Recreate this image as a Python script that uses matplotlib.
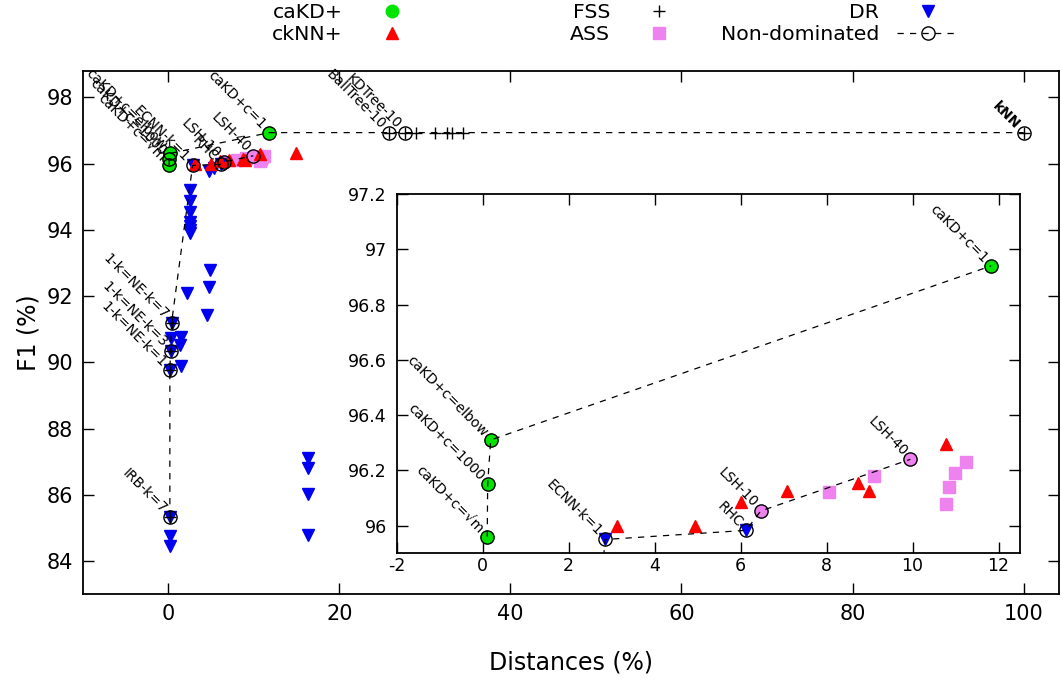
import numpy as np
import matplotlib.pyplot as plt
from matplotlib.lines import Line2D
from matplotlib.ticker import FuncFormatter

plt.rcParams['font.family'] = ['DejaVu Sans']
plt.rcParams['axes.unicode_minus'] = False

GREEN = '#00e400'
RED = '#ff0000'
BLUE = '#0000f0'
VIOLET = '#ee82ee'

# caKD+ (green circles)
cakd_x = [0.11, 0.12, 0.19, 11.83]
cakd_y = [95.96, 96.15, 96.31, 96.94]

# ckNN+ (red triangles)
cknn_x = [3.13, 4.95, 6.0, 7.09, 8.74, 8.98, 10.78, 14.9]
cknn_y = [96.0, 96.0, 96.085, 96.125, 96.155, 96.125, 96.295, 96.33]

# FSS (plus)
fss_x = [25.8, 27.65, 29.0, 31.2, 32.6, 33.2, 34.5, 100.0, 0.39, 0.27, 0.19, 0.19]
fss_y = [96.94, 96.94, 96.94, 96.94, 96.94, 96.94, 96.94, 96.94, 91.2, 90.35, 89.76, 85.34]

# ASS (violet squares), LSH variants drawn as circles
ass_x = [8.05, 9.1, 10.77, 10.84, 10.98, 11.25]
ass_y = [96.12, 96.18, 96.08, 96.14, 96.19, 96.23]
lsh_x = [6.47, 9.95]
lsh_y = [96.053, 96.24]

# DR (blue down triangles)
dr_x = [2.85, 6.13, 0.39, 0.27, 0.19, 0.19, 0.19, 0.15,
        0.27, 1.44, 1.36, 1.55, 2.22, 4.94, 4.75, 4.56,
        16.3, 16.3, 16.3, 16.3,
        2.6, 2.6, 2.6, 2.6, 2.6, 2.6, 2.6, 4.75, 5.33]
dr_y = [95.95, 95.983, 91.2, 90.35, 89.76, 85.34, 84.77, 84.45,
        90.75, 90.78, 90.53, 89.88, 92.11, 92.79, 92.29, 91.44,
        87.12, 86.81, 86.04, 84.8,
        95.2, 94.87, 94.55, 94.25, 94.12, 94.0, 93.9, 95.78, 95.86]

# Non-dominated solutions, two fronts
nd_labels = ['IRB-k=7', '1-k=NE-k=1', '1-k=NE-k=3', '1-k=NE-k=7', 'ECNN-k=1',
             'RHC', 'LSH-10', 'LSH-40',
             'caKD+c=\u221am', 'caKD+c=1000', 'caKD+c=elbow', 'caKD+c=1',
             'BallTree-10', 'KDTree-10', 'kNN']
nd_x = [0.19, 0.19, 0.27, 0.39, 2.85, 6.13, 6.47, 9.95,
        0.11, 0.12, 0.19, 11.83, 25.8, 27.65, 100.0]
nd_y = [85.34, 89.76, 90.35, 91.2, 95.95, 95.983, 96.053, 96.24,
        95.96, 96.15, 96.31, 96.94, 96.94, 96.94, 96.94]
nd_front = [1, 1, 1, 1, 1, 1, 1, 1, 2, 2, 2, 2, 2, 2, 2]

DASH = (0, (5, 5))


def draw(ax, line_xmax=None):
    ax.plot(ass_x, ass_y, 's', color=VIOLET, ms=8.5, ls='none', zorder=3)
    ax.plot(lsh_x, lsh_y, 'o', color=VIOLET, ms=9, ls='none', zorder=3)
    ax.plot(dr_x, dr_y, 'v', color=BLUE, ms=8.5, ls='none', zorder=3)
    ax.plot(cknn_x, cknn_y, '^', color=RED, ms=8.5, ls='none', zorder=3)
    ax.plot(cakd_x, cakd_y, 'o', color=GREEN, ms=9, ls='none', zorder=3)
    ax.plot(fss_x, fss_y, '+', color='k', ms=9, mew=1.0, ls='none', zorder=4)
    x = np.array(nd_x)
    y = np.array(nd_y)
    f = np.array(nd_front)
    keep = np.ones(len(x), bool) if line_xmax is None else x <= line_xmax
    for k in (1, 2):
        m = (f == k) & keep
        ax.plot(x[m], y[m], ls=DASH, color='k', lw=0.9, zorder=4)
    ax.plot(x, y, 'o', mfc='none', mec='k', ms=9.5, mew=1.0, ls='none', zorder=5)
    for lab, px, py in zip(nd_labels, nd_x, nd_y):
        ax.annotate(lab, (px, py), xytext=(-4, 4), textcoords='offset points',
                    rotation=-45, rotation_mode='anchor', ha='right', va='center',
                    fontsize=10, fontweight='bold' if lab == 'kNN' else 'normal',
                    zorder=6)


def style(ax, labelsize, xpad, ypad):
    ax.tick_params(direction='in', length=8, width=1.0, top=True, right=True,
                   labelsize=labelsize)
    ax.tick_params(axis='x', pad=xpad)
    ax.tick_params(axis='y', pad=ypad)
    for s in ax.spines.values():
        s.set_linewidth(1.3)


fig = plt.figure(figsize=(10.61, 6.8), dpi=100)
W, H = 1061.0, 680.0

ax = fig.add_axes([82.7 / W, 1 - 594.3 / H, (1059.5 - 82.7) / W, (594.3 - 71) / H])
draw(ax)
ax.set_xlim(-10, 104.2)
ax.set_ylim(83, 98.8)
ax.set_xticks([0, 20, 40, 60, 80, 100])
ax.set_yticks([84, 86, 88, 90, 92, 94, 96, 98])
style(ax, 15, 7, 7)
ax.set_xlabel('Distances (%)', fontsize=17, labelpad=19)
ax.set_ylabel('F1 (%)', fontsize=17, labelpad=4)

ins = fig.add_axes([396.5 / W, 1 - 553.3 / H, (1020 - 396.5) / W, (553.3 - 194) / H])
ins.set_facecolor('white')
draw(ins, line_xmax=12.5)
ins.set_xlim(-2, 12.5)
ins.set_ylim(95.9, 97.2)
ins.set_xticks([-2, 0, 2, 4, 6, 8, 10, 12])
ins.set_yticks([96, 96.2, 96.4, 96.6, 96.8, 97, 97.2])
ins.yaxis.set_major_formatter(FuncFormatter(lambda v, p: '%g' % round(v, 1)))
style(ins, 12.5, 3, 7)

# legend, gnuplot-like: label right-aligned, sample to the right
h_cakd = Line2D([], [], ls='none', marker='o', color=GREEN, ms=9)
h_cknn = Line2D([], [], ls='none', marker='^', color=RED, ms=8.5)
h_fss = Line2D([], [], ls='none', marker='+', color='k', ms=9, mew=1.0)
h_ass = Line2D([], [], ls='none', marker='s', color=VIOLET, ms=8.5)
h_dr = Line2D([], [], ls='none', marker='v', color=BLUE, ms=8.5)
h_nd = Line2D([], [], ls=DASH, color='k', lw=0.9, marker='o', mfc='none', mec='k', ms=9.5)

leg_kw = dict(frameon=False, markerfirst=False, fontsize=14.7, handlelength=3.0,
              handletextpad=0.9, labelspacing=0.15, borderpad=0, borderaxespad=0,
              loc='upper right', numpoints=1)
fig.legend([h_cakd, h_cknn], ['caKD+', 'ckNN+'], bbox_to_anchor=(422.6 / W, 1 - 3 / H), **leg_kw)
fig.legend([h_fss, h_ass], ['FSS', 'ASS'], bbox_to_anchor=(689.6 / W, 1 - 3 / H), **leg_kw)
fig.legend([h_dr, h_nd], ['DR', 'Non-dominated'], bbox_to_anchor=(958.6 / W, 1 - 3 / H), **leg_kw)

fig.savefig('out.png', dpi=100)
